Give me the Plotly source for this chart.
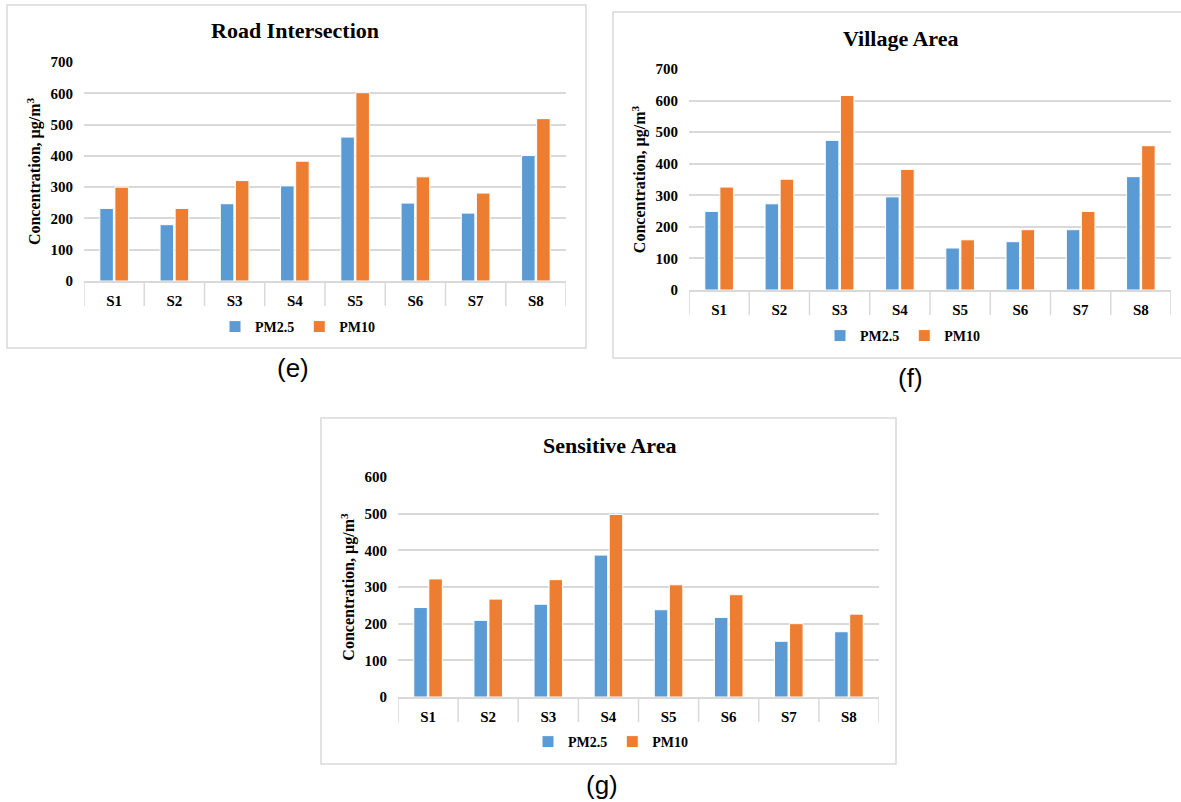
import plotly.graph_objects as go

W, H = 1181, 802

categories = ["S1", "S2", "S3", "S4", "S5", "S6", "S7", "S8"]
series_names = ["PM2.5", "PM10"]

road_pm25 = [232, 180, 247, 304, 460, 249, 217, 401]
road_pm10 = [300, 232, 321, 383, 602, 333, 281, 519]

village_pm25 = [249, 273, 474, 295, 133, 153, 191, 359]
village_pm10 = [326, 351, 616, 382, 159, 191, 249, 457]

sensitive_pm25 = [244, 209, 253, 387, 238, 217, 152, 178]
sensitive_pm10 = [322, 267, 320, 498, 306, 279, 200, 226]

titles = ["Road Intersection", "Village Area", "Sensitive Area"]
panel_labels = ["(e)", "(f)", "(g)"]
y_max = [700, 700, 600]

COLORS = ["#5B9BD5", "#ED7D31"]
GRID = "#d9d9d9"
SERIF = "Liberation Serif"


def fx(x):
    return x / W


def fy(y):
    return 1 - y / H


# geometry in pixels (layout only)
panels = [
    dict(data=(road_pm25, road_pm10), plot=(84, 566, 62, 281), frame=(7, 586, 5, 348),
         title=(295, 30), legend=(298, 327), label=(293, 368)),
    dict(data=(village_pm25, village_pm10), plot=(689, 1171, 69, 290), frame=(613, 1186, 12, 358),
         title=(900, 38), legend=(903, 336), label=(910, 378)),
    dict(data=(sensitive_pm25, sensitive_pm10), plot=(398, 879, 477, 697), frame=(321, 896, 418, 764),
         title=(609, 445), legend=(611, 742), label=(602, 785)),
]

fig = go.Figure()
shapes = []
annotations = []
layout_extra = {}

for i, p in enumerate(panels):
    sfx = "" if i == 0 else str(i + 1)
    xa, ya = "x" + sfx, "y" + sfx
    leg = "legend" + sfx
    for k, vals in enumerate(p["data"]):
        fig.add_trace(go.Bar(
            x=categories, y=vals, name=series_names[k],
            marker=dict(color=COLORS[k], line=dict(color="white", width=1)),
            xaxis=xa, yaxis=ya, legend=leg,
        ))
    l, r, t, b = p["plot"]
    layout_extra["xaxis" + sfx] = dict(
        domain=[fx(l), fx(r)], anchor=ya, type="category", range=[-0.5, len(categories) - 0.5],
        showline=True, linecolor=GRID, linewidth=1.5, ticks="", showgrid=False,
        tickfont=dict(family=SERIF, size=15, color="black", weight="bold"),
        ticklabelstandoff=5, automargin=False, fixedrange=True,
    )
    layout_extra["yaxis" + sfx] = dict(
        domain=[fy(b), fy(t)], anchor=xa, range=[0, y_max[i]], dtick=100,
        showgrid=True, gridcolor=GRID, gridwidth=1.5, zeroline=False, showline=False,
        ticks="", tickfont=dict(family=SERIF, size=15, color="black", weight="bold"),
        ticklabelstandoff=10, automargin=False,
        title=dict(text="Concentration, µg/m<sup>3</sup>", standoff=5,
                   font=dict(family=SERIF, size=16, color="black", weight="bold")),
    )
    lx, ly = p["legend"]
    layout_extra[leg] = dict(
        x=fx(lx), y=fy(ly), xanchor="center", yanchor="middle", orientation="h",
        font=dict(family=SERIF, size=14, color="black", weight="bold"),
        bgcolor="rgba(0,0,0,0)", itemwidth=30, tracegroupgap=0,
    )
    # category separators
    plot_h = b - t
    for j in range(len(categories) + 1):
        shapes.append(dict(type="line", xref=xa, yref=ya + " domain",
                           x0=j - 0.5, x1=j - 0.5, y0=0, y1=-25 / plot_h,
                           line=dict(color=GRID, width=1.5)))
    # frame
    fl, fr, ft, fb = p["frame"]
    shapes.append(dict(type="rect", xref="paper", yref="paper",
                       x0=fx(fl), x1=fx(fr), y0=fy(fb), y1=fy(ft),
                       line=dict(color=GRID, width=1.5), layer="below"))
    tx, ty = p["title"]
    annotations.append(dict(x=fx(tx), y=fy(ty), xref="paper", yref="paper",
                            text=titles[i], showarrow=False, xanchor="center", yanchor="middle",
                            font=dict(family=SERIF, size=22, color="black", weight="bold")))
    px_, py_ = p["label"]
    annotations.append(dict(x=fx(px_), y=fy(py_), xref="paper", yref="paper",
                            text=panel_labels[i], showarrow=False, xanchor="center", yanchor="middle",
                            font=dict(family="Liberation Sans", size=26, color="black")))

fig.update_layout(
    width=W, height=H, margin=dict(l=0, r=0, t=0, b=0),
    paper_bgcolor="white", plot_bgcolor="white",
    barmode="group", bargap=0.5, bargroupgap=0.1,
    shapes=shapes, annotations=annotations, showlegend=True,
    **layout_extra,
)

fig.write_html("out.html")
